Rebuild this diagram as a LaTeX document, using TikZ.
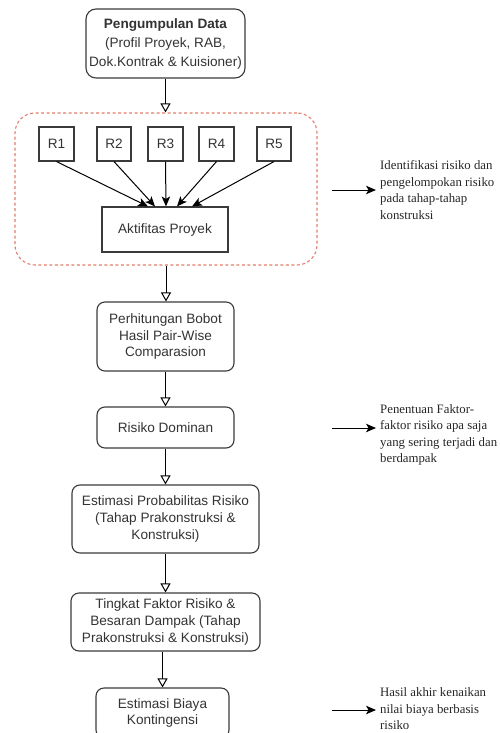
\documentclass[tikz,border=0pt]{standalone}
\usepackage{fontspec}
\setmainfont{Liberation Serif}
\newfontfamily\arialf{Liberation Sans}
\usetikzlibrary{arrows.meta,positioning,calc}
\definecolor{boxline}{HTML}{3A3A3A}
\definecolor{boxtext}{HTML}{333333}
\definecolor{dashred}{HTML}{E0806C}
\tikzset{
  flowbox/.style={draw=boxline, line width=1.1pt, rounded corners=8pt, align=center,
    text=boxtext, font=\arialf\fontsize{13.6}{16.6}\selectfont, inner sep=0pt},
  rbox/.style={draw=boxline, line width=1.1pt, align=center, text=boxtext,
    font=\arialf\fontsize{13.6}{16.6}\selectfont, inner sep=0pt},
  grpbox/.style={draw=dashred, line width=1.1pt, dash pattern=on 3pt off 2.5pt, rounded corners=20pt, inner sep=0pt},
  flowarrow/.style={draw=black, line width=1pt, -{Triangle[open,width=10pt,length=9pt,line width=1pt]}},
  feedarrow/.style={draw=black, line width=1pt, -{Stealth[length=10pt,width=8.5pt,inset=2.5pt]}},
  notetext/.style={anchor=west, align=left, inner sep=0pt, text=black!85,
    font=\fontsize{12.8}{16.6}\selectfont}
}
\begin{document}
\begin{tikzpicture}[x=1pt,y=-1pt]
\useasboundingbox (0,0) rectangle (500,733);

\node[flowbox, rounded corners=10pt, minimum width=159pt, minimum height=69pt, font=\arialf\fontsize{13.6}{19}\selectfont] (pd) at (165.5,43.5)
  {\textbf{Pengumpulan Data}\\(Profil Proyek, RAB,\\Dok.Kontrak \& Kuisioner)};

\node[grpbox, minimum width=302pt, minimum height=152pt] (grp) at (166,189) {};

\node[rbox, minimum width=35pt, minimum height=34pt] (r1) at (56.5,144) {R1};
\node[rbox, minimum width=34pt, minimum height=34pt] (r2) at (114,144) {R2};
\node[rbox, minimum width=35pt, minimum height=34pt] (r3) at (165.5,144) {R3};
\node[rbox, minimum width=35pt, minimum height=34pt] (r4) at (216.5,144) {R4};
\node[rbox, minimum width=34pt, minimum height=34pt] (r5) at (274,144) {R5};

\node[rbox, minimum width=126pt, minimum height=45pt] (akt) at (165,229.5) {Aktifitas Proyek};

\node[flowbox, minimum width=137pt, minimum height=69pt] (ph) at (165.5,336.5)
  {Perhitungan Bobot\\Hasil Pair-Wise\\Comparasion};
\node[flowbox, minimum width=137pt, minimum height=41pt] (rd) at (165.5,427.5) {Risiko Dominan};
\node[flowbox, minimum width=187pt, minimum height=68pt] (ep) at (165.5,519)
  {Estimasi Probabilitas Risiko\\(Tahap Prakonstruksi \&\\Konstruksi)};
\node[flowbox, minimum width=189pt, minimum height=58pt] (tf) at (165.5,622)
  {Tingkat Faktor Risiko \&\\Besaran Dampak (Tahap\\Prakonstruksi \& Konstruksi)};
\node[flowbox, minimum width=133pt, minimum height=50pt] (eb) at (162.5,713)
  {Estimasi Biaya\\Kontingensi};

% main flow
\draw[flowarrow] (pd.south) -- (pd.south |- grp.north);
\draw[flowarrow] (grp.south) -- (grp.south |- ph.north);
\draw[flowarrow] (ph.south) -- (rd.north);
\draw[flowarrow] (rd.south) -- (ep.north);
\draw[flowarrow] (ep.south) -- (tf.north);
\draw[flowarrow] (eb.north |- tf.south) -- (eb.north);

% R arrows
\draw[feedarrow] (r1.south) -- ([xshift=-17pt]akt.north);
\draw[feedarrow] (r2.south) -- ([xshift=-10pt]akt.north);
\draw[feedarrow] (r3.south) -- ([xshift=1pt]akt.north);
\draw[feedarrow] (r4.south) -- ([xshift=12pt]akt.north);
\draw[feedarrow] (r5.south) -- ([xshift=27pt]akt.north);

% notes
\node[notetext] (n1) at (380,190)
  {Identifikasi risiko dan\\pengelompokan risiko\\pada tahap-tahap\\konstruksi};
\node[notetext] (n2) at (380,435)
  {Penentuan Faktor-\\faktor risiko apa saja\\yang sering terjadi dan\\berdampak};
\node[notetext] (n3) at (380,709)
  {Hasil akhir kenaikan\\nilai biaya berbasis\\risiko};

\coordinate (a1s) at (332,190);
\coordinate (a1e) at (376,190);
\coordinate (a2s) at (332,428);
\coordinate (a2e) at (376,428);
\coordinate (a3s) at (332,710);
\coordinate (a3e) at (376,710);
\draw[feedarrow] (a1s) -- (a1e);
\draw[feedarrow] (a2s) -- (a2e);
\draw[feedarrow] (a3s) -- (a3e);
\end{tikzpicture}
\end{document}
